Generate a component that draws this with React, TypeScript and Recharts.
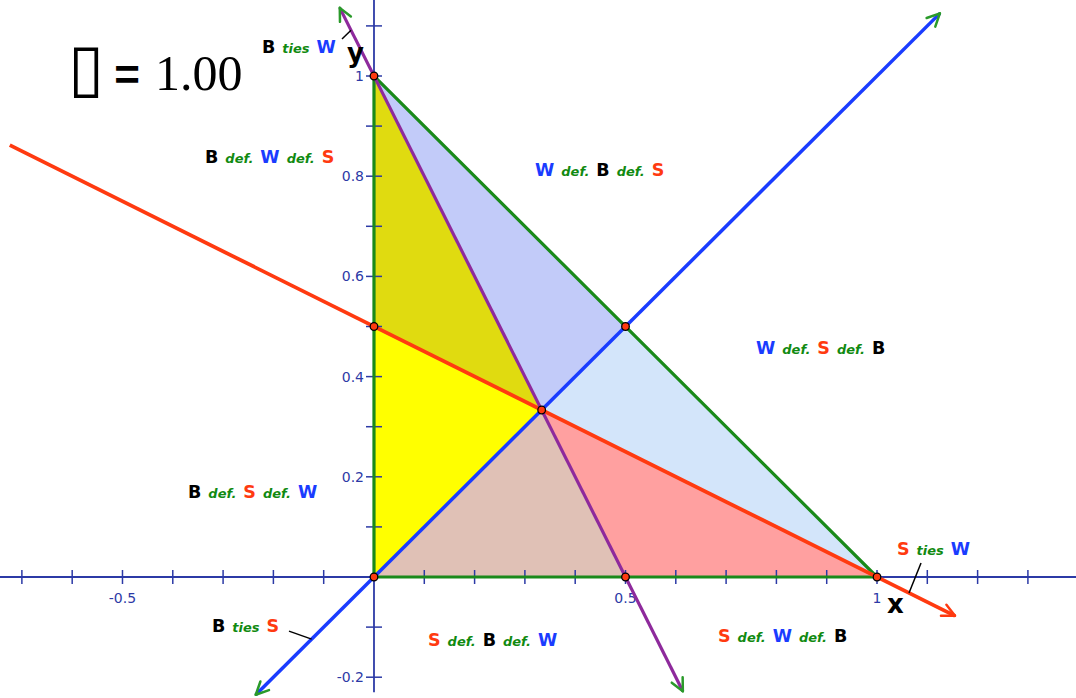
import { ComposedChart, XAxis, YAxis, Area, Scatter } from "recharts";

const X_MIN = -0.7435;
const X_MAX = 1.3956;
const Y_MIN = -0.2415;
const Y_MAX = 1.1517;

// shaded regions as [low, high] bands over x
const regionX = [0, 1 / 3, 0.5, 1];
const yellowBand = [[0, 0.5], [1 / 3, 1 / 3], null, null];
const oliveBand = [[0.5, 1], [1 / 3, 1 / 3], null, null];
const lavenderBand = [[1, 1], [1 / 3, 2 / 3], [0.5, 0.5], null];
const skyBand = [null, [1 / 3, 1 / 3], [0.25, 0.5], [0, 0]];
const pinkBand = [null, [1 / 3, 1 / 3], [0, 0.25], [0, 0]];
const tanBand = [[0, 0], [0, 1 / 3], [0, 0], null];

// lines
const triangleEdge = [
  { x: 0, y: 0 },
  { x: 1, y: 0 },
  { x: 0, y: 1 },
  { x: 0, y: 0 },
];
const redLine = [
  { x: -0.724, y: 0.862 },
  { x: 1.155, y: -0.0775 },
];
const blueLine = [
  { x: -0.235, y: -0.235 },
  { x: 1.125, y: 1.125 },
];
const purpleLine = [
  { x: -0.068, y: 1.136 },
  { x: 0.614, y: -0.228 },
];
const xAxisLine = [
  { x: X_MIN, y: 0 },
  { x: X_MAX, y: 0 },
];
const yAxisLine = [
  { x: 0, y: Y_MAX },
  { x: 0, y: -0.23 },
];
const vertices = [
  { x: 0, y: 1 },
  { x: 0, y: 0.5 },
  { x: 0.5, y: 0.5 },
  { x: 1 / 3, y: 1 / 3 },
  { x: 0, y: 0 },
  { x: 0.5, y: 0 },
  { x: 1, y: 0 },
];

const xTicks = [-0.7, -0.6, -0.5, -0.4, -0.3, -0.2, -0.1, 0.1, 0.2, 0.3, 0.4, 0.5, 0.6, 0.7, 0.8, 0.9, 1, 1.1, 1.2, 1.3];
const yTicks = [-0.2, -0.1, 0.1, 0.2, 0.3, 0.4, 0.5, 0.6, 0.7, 0.8, 0.9, 1, 1.1];
const xTickLabels = [-0.5, 0.5, 1];
const yTickLabels = [1, 0.8, 0.6, 0.4, 0.2, -0.2];

// leader lines from "ties" labels
const leaderBW = [
  { x: -0.0636, y: 1.074 },
  { x: -0.0457, y: 1.0914 },
];
const leaderSW = [
  { x: 1.0875, y: 0.028 },
  { x: 1.0636, y: -0.0318 },
];
const leaderBS = [
  { x: -0.169, y: -0.108 },
  { x: -0.124, y: -0.124 },
];

const regionRows = regionX.map((x, i) => ({
  x,
  yellow: yellowBand[i],
  olive: oliveBand[i],
  lavender: lavenderBand[i],
  sky: skyBand[i],
  pink: pinkBand[i],
  tan: tanBand[i],
}));

const AXIS = "#2c3aa6";
const RED = "#ff3a10";
const BLUE = "#1a3cff";
const PURPLE = "#8e2a9c";
const GREEN = "#1a8a1a";
const TIP = "#2a9a2a";

const noShape = () => <g />;

const arrow = (color: string, from: { x: number; y: number }, to: { x: number; y: number }) =>
  (props: any) => {
    const a = Math.atan2(-(to.y - from.y), to.x - from.x);
    const len = 14;
    const spread = 0.45;
    const { cx, cy } = props;
    const p1 = [cx - len * Math.cos(a - spread), cy - len * Math.sin(a - spread)];
    const p2 = [cx - len * Math.cos(a + spread), cy - len * Math.sin(a + spread)];
    return (
      <g stroke={color} strokeWidth={2.5} strokeLinecap="round" fill="none">
        <line x1={cx} y1={cy} x2={p1[0]} y2={p1[1]} />
        <line x1={cx} y1={cy} x2={p2[0]} y2={p2[1]} />
      </g>
    );
  };

const xTickShape = (props: any) => {
  const { cx, cy, payload } = props;
  const lbl = xTickLabels.includes(payload.x);
  return (
    <g>
      <line x1={cx} y1={cy - 7} x2={cx} y2={cy + 7} stroke={AXIS} strokeWidth={1.5} />
      {lbl && (
        <text x={cx} y={cy + 26} textAnchor="middle" fontSize={14} fill={AXIS} fontFamily="DejaVu Sans">
          {payload.x}
        </text>
      )}
    </g>
  );
};

const yTickShape = (props: any) => {
  const { cx, cy, payload } = props;
  const lbl = yTickLabels.includes(payload.y);
  return (
    <g>
      <line x1={cx - 8} y1={cy} x2={cx + 8} y2={cy} stroke={AXIS} strokeWidth={1.5} />
      {lbl && (
        <text x={cx - 10} y={cy + 5} textAnchor="end" fontSize={14} fill={AXIS} fontFamily="DejaVu Sans">
          {payload.y}
        </text>
      )}
    </g>
  );
};

const dotShape = (props: any) => (
  <circle cx={props.cx} cy={props.cy} r={3.8} fill={RED} stroke="#000" strokeWidth={1.3} />
);

const C: Record<string, string> = { k: "#000", g: "#118a11", b: BLUE, r: RED };

type Part = [string, string];
const annotations: { parts: Part[]; left: number; cy: number }[] = [
  { parts: [["B", "k"], ["ties", "g"], ["W", "b"]], left: 262, cy: 47 },
  { parts: [["B", "k"], ["def.", "g"], ["W", "b"], ["def.", "g"], ["S", "r"]], left: 205, cy: 157 },
  { parts: [["W", "b"], ["def.", "g"], ["B", "k"], ["def.", "g"], ["S", "r"]], left: 535, cy: 170 },
  { parts: [["W", "b"], ["def.", "g"], ["S", "r"], ["def.", "g"], ["B", "k"]], left: 756, cy: 348 },
  { parts: [["B", "k"], ["def.", "g"], ["S", "r"], ["def.", "g"], ["W", "b"]], left: 188, cy: 492 },
  { parts: [["S", "r"], ["ties", "g"], ["W", "b"]], left: 897, cy: 549 },
  { parts: [["B", "k"], ["ties", "g"], ["S", "r"]], left: 212, cy: 626 },
  { parts: [["S", "r"], ["def.", "g"], ["B", "k"], ["def.", "g"], ["W", "b"]], left: 428, cy: 640 },
  { parts: [["S", "r"], ["def.", "g"], ["W", "b"], ["def.", "g"], ["B", "k"]], left: 718, cy: 636 },
];

function Annotation({ parts, left, cy }: { parts: Part[]; left: number; cy: number }) {
  return (
    <div
      style={{
        position: "absolute",
        left,
        top: cy - 12,
        height: 24,
        lineHeight: "24px",
        whiteSpace: "nowrap",
        fontFamily: "DejaVu Sans",
        fontWeight: "bold",
      }}
    >
      {parts.map(([t, c], i) => {
        const small = t === "def." || t === "ties";
        return (
          <span
            key={i}
            style={{
              color: C[c],
              fontSize: small ? 13 : 17.5,
              fontStyle: small ? "italic" : "normal",
              marginRight: i < parts.length - 1 ? 7 : 0,
            }}
          >
            {t}
          </span>
        );
      })}
    </div>
  );
}

export default function App() {
  return (
    <div style={{ position: "absolute", left: 0, top: 0, width: 1076, height: 698, background: "#fff" }}>
      <ComposedChart width={1076} height={698} data={regionRows} margin={{ top: 0, right: 0, bottom: 0, left: 0 }}>
        <XAxis type="number" dataKey="x" domain={[X_MIN, X_MAX]} allowDataOverflow hide />
        <YAxis type="number" dataKey="y" domain={[Y_MIN, Y_MAX]} allowDataOverflow hide />
        <Area dataKey="yellow" type="linear" fill="#ffff00" fillOpacity={1} stroke="none" isAnimationActive={false} />
        <Area dataKey="olive" type="linear" fill="#e0db10" fillOpacity={1} stroke="none" isAnimationActive={false} />
        <Area dataKey="lavender" type="linear" fill="#c2cbf9" fillOpacity={1} stroke="none" isAnimationActive={false} />
        <Area dataKey="sky" type="linear" fill="#d3e5fa" fillOpacity={1} stroke="none" isAnimationActive={false} />
        <Area dataKey="pink" type="linear" fill="#ffa0a0" fillOpacity={1} stroke="none" isAnimationActive={false} />
        <Area dataKey="tan" type="linear" fill="#e0c1b6" fillOpacity={1} stroke="none" isAnimationActive={false} />

        <Scatter data={xAxisLine} line={{ stroke: AXIS, strokeWidth: 1.8 }} lineType="joint" shape={noShape} isAnimationActive={false} />
        <Scatter data={yAxisLine} line={{ stroke: AXIS, strokeWidth: 1.8 }} lineType="joint" shape={noShape} isAnimationActive={false} />
        <Scatter data={xTicks.map((x) => ({ x, y: 0 }))} shape={xTickShape} isAnimationActive={false} />
        <Scatter data={yTicks.map((y) => ({ x: 0, y }))} shape={yTickShape} isAnimationActive={false} />

        <Scatter data={triangleEdge} line={{ stroke: GREEN, strokeWidth: 3.2 }} lineType="joint" shape={noShape} isAnimationActive={false} />
        <Scatter data={blueLine} line={{ stroke: BLUE, strokeWidth: 3.5 }} lineType="joint" shape={noShape} isAnimationActive={false} />
        <Scatter data={redLine} line={{ stroke: RED, strokeWidth: 3.8 }} lineType="joint" shape={noShape} isAnimationActive={false} />
        <Scatter data={purpleLine} line={{ stroke: PURPLE, strokeWidth: 3.2 }} lineType="joint" shape={noShape} isAnimationActive={false} />

        <Scatter data={[redLine[1]]} shape={arrow(RED, redLine[0], redLine[1])} isAnimationActive={false} />
        <Scatter data={[blueLine[1]]} shape={arrow(TIP, blueLine[0], blueLine[1])} isAnimationActive={false} />
        <Scatter data={[blueLine[0]]} shape={arrow(TIP, blueLine[1], blueLine[0])} isAnimationActive={false} />
        <Scatter data={[purpleLine[0]]} shape={arrow(TIP, purpleLine[1], purpleLine[0])} isAnimationActive={false} />
        <Scatter data={[purpleLine[1]]} shape={arrow(TIP, purpleLine[0], purpleLine[1])} isAnimationActive={false} />

        <Scatter data={leaderBW} line={{ stroke: "#000", strokeWidth: 1.5 }} lineType="joint" shape={noShape} isAnimationActive={false} />
        <Scatter data={leaderSW} line={{ stroke: "#000", strokeWidth: 1.5 }} lineType="joint" shape={noShape} isAnimationActive={false} />
        <Scatter data={leaderBS} line={{ stroke: "#000", strokeWidth: 1.5 }} lineType="joint" shape={noShape} isAnimationActive={false} />

        <Scatter data={vertices} shape={dotShape} isAnimationActive={false} />
      </ComposedChart>

      {annotations.map((a, i) => (
        <Annotation key={i} {...a} />
      ))}

      <div style={{ position: "absolute", left: 347, top: 38, fontFamily: "DejaVu Sans", fontWeight: "bold", fontSize: 26 }}>y</div>
      <div style={{ position: "absolute", left: 887, top: 589, fontFamily: "DejaVu Sans", fontWeight: "bold", fontSize: 26 }}>x</div>

      <div style={{ position: "absolute", left: 68, top: 30, whiteSpace: "nowrap", lineHeight: "76px", height: 76 }}>
        <span style={{ fontFamily: "DejaVu Sans", fontSize: 66 }}>▯</span>
        <span style={{ fontFamily: "Liberation Sans", fontWeight: "bold", fontSize: 44, marginLeft: 10 }}>=</span>
        <span style={{ fontFamily: "Liberation Serif", fontSize: 50, marginLeft: 15 }}>1.00</span>
      </div>
    </div>
  );
}
